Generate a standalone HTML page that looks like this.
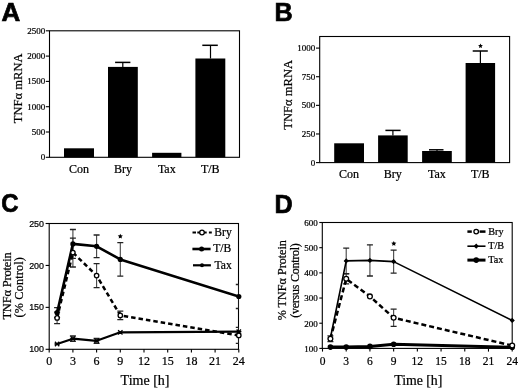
<!DOCTYPE html>
<html><head><meta charset="utf-8"><style>
html,body{margin:0;padding:0;background:#fff;}
body{width:520px;height:389px;overflow:hidden;}
svg{display:block;will-change:transform;}
</style></head><body>
<svg width="520" height="389" viewBox="0 0 520 389">
<rect width="520" height="389" fill="#fff"/>
<text x="1.60" y="20.90" font-family='"Liberation Sans", sans-serif' font-size="25.2" text-anchor="start" font-weight="bold" stroke="#000" stroke-width="0.7" transform="translate(1.60 20.90) scale(1.03 1) translate(-1.60 -20.90)">A</text>
<rect x="49.5" y="30.8" width="190.0" height="126.50000000000001" fill="none" stroke="#000" stroke-width="1.1"/>
<line x1="45.80" y1="157.30" x2="49.50" y2="157.30" stroke="#000" stroke-width="1.1" />
<text x="45.30" y="160.30" font-family='"Liberation Serif", serif' font-size="9" text-anchor="end" font-weight="normal"  stroke="#000" stroke-width="0.22">0</text>
<line x1="45.80" y1="132.00" x2="49.50" y2="132.00" stroke="#000" stroke-width="1.1" />
<text x="45.30" y="135.00" font-family='"Liberation Serif", serif' font-size="9" text-anchor="end" font-weight="normal"  stroke="#000" stroke-width="0.22">500</text>
<line x1="45.80" y1="106.70" x2="49.50" y2="106.70" stroke="#000" stroke-width="1.1" />
<text x="45.30" y="109.70" font-family='"Liberation Serif", serif' font-size="9" text-anchor="end" font-weight="normal"  stroke="#000" stroke-width="0.22">1000</text>
<line x1="45.80" y1="81.40" x2="49.50" y2="81.40" stroke="#000" stroke-width="1.1" />
<text x="45.30" y="84.40" font-family='"Liberation Serif", serif' font-size="9" text-anchor="end" font-weight="normal"  stroke="#000" stroke-width="0.22">1500</text>
<line x1="45.80" y1="56.10" x2="49.50" y2="56.10" stroke="#000" stroke-width="1.1" />
<text x="45.30" y="59.10" font-family='"Liberation Serif", serif' font-size="9" text-anchor="end" font-weight="normal"  stroke="#000" stroke-width="0.22">2000</text>
<line x1="45.80" y1="30.80" x2="49.50" y2="30.80" stroke="#000" stroke-width="1.1" />
<text x="45.30" y="33.80" font-family='"Liberation Serif", serif' font-size="9" text-anchor="end" font-weight="normal"  stroke="#000" stroke-width="0.22">2500</text>
<rect x="64.00" y="148.30" width="30.00" height="9.00" fill="#000"/>
<rect x="108.00" y="66.90" width="29.80" height="90.40" fill="#000"/>
<rect x="152.10" y="152.80" width="29.30" height="4.50" fill="#000"/>
<rect x="195.40" y="58.50" width="29.90" height="98.80" fill="#000"/>
<line x1="122.80" y1="62.40" x2="122.80" y2="66.90" stroke="#000" stroke-width="1.2" />
<line x1="115.10" y1="62.40" x2="130.40" y2="62.40" stroke="#000" stroke-width="1.5" />
<line x1="210.50" y1="45.30" x2="210.50" y2="58.50" stroke="#000" stroke-width="1.2" />
<line x1="202.30" y1="45.30" x2="217.80" y2="45.30" stroke="#000" stroke-width="1.5" />
<text x="79.00" y="172.80" font-family='"Liberation Serif", serif' font-size="12" text-anchor="middle" font-weight="normal"  stroke="#000" stroke-width="0.22">Con</text>
<text x="123.00" y="172.80" font-family='"Liberation Serif", serif' font-size="12" text-anchor="middle" font-weight="normal"  stroke="#000" stroke-width="0.22">Bry</text>
<text x="166.80" y="172.80" font-family='"Liberation Serif", serif' font-size="12" text-anchor="middle" font-weight="normal"  stroke="#000" stroke-width="0.22">Tax</text>
<text x="210.30" y="172.80" font-family='"Liberation Serif", serif' font-size="12" text-anchor="middle" font-weight="normal"  stroke="#000" stroke-width="0.22">T/B</text>
<text x="0.00" y="0.00" font-family='"Liberation Serif", serif' font-size="12.6" text-anchor="middle" font-weight="normal" transform="translate(22.2 88.3) rotate(-90)" stroke="#000" stroke-width="0.22">TNFα mRNA</text>
<text x="274.40" y="21.00" font-family='"Liberation Sans", sans-serif' font-size="25.2" text-anchor="start" font-weight="bold" stroke="#000" stroke-width="0.7">B</text>
<rect x="319.7" y="36.5" width="189.90000000000003" height="126.1" fill="none" stroke="#000" stroke-width="1.1"/>
<line x1="316.00" y1="162.60" x2="319.70" y2="162.60" stroke="#000" stroke-width="1.1" />
<text x="315.20" y="165.60" font-family='"Liberation Serif", serif' font-size="9" text-anchor="end" font-weight="normal"  stroke="#000" stroke-width="0.22">0</text>
<line x1="316.00" y1="133.97" x2="319.70" y2="133.97" stroke="#000" stroke-width="1.1" />
<text x="315.20" y="136.97" font-family='"Liberation Serif", serif' font-size="9" text-anchor="end" font-weight="normal"  stroke="#000" stroke-width="0.22">250</text>
<line x1="316.00" y1="105.35" x2="319.70" y2="105.35" stroke="#000" stroke-width="1.1" />
<text x="315.20" y="108.35" font-family='"Liberation Serif", serif' font-size="9" text-anchor="end" font-weight="normal"  stroke="#000" stroke-width="0.22">500</text>
<line x1="316.00" y1="76.72" x2="319.70" y2="76.72" stroke="#000" stroke-width="1.1" />
<text x="315.20" y="79.72" font-family='"Liberation Serif", serif' font-size="9" text-anchor="end" font-weight="normal"  stroke="#000" stroke-width="0.22">750</text>
<line x1="316.00" y1="48.10" x2="319.70" y2="48.10" stroke="#000" stroke-width="1.1" />
<text x="315.20" y="51.10" font-family='"Liberation Serif", serif' font-size="9" text-anchor="end" font-weight="normal"  stroke="#000" stroke-width="0.22">1000</text>
<rect x="334.20" y="143.30" width="29.80" height="19.30" fill="#000"/>
<rect x="378.10" y="135.40" width="29.60" height="27.20" fill="#000"/>
<rect x="422.10" y="151.00" width="29.70" height="11.60" fill="#000"/>
<rect x="465.60" y="63.00" width="29.50" height="99.60" fill="#000"/>
<line x1="392.90" y1="130.40" x2="392.90" y2="135.40" stroke="#000" stroke-width="1.2" />
<line x1="385.40" y1="130.40" x2="400.60" y2="130.40" stroke="#000" stroke-width="1.5" />
<line x1="437.00" y1="149.80" x2="437.00" y2="151.00" stroke="#000" stroke-width="1.2" />
<line x1="429.00" y1="149.80" x2="443.50" y2="149.80" stroke="#000" stroke-width="1.5" />
<line x1="480.40" y1="51.00" x2="480.40" y2="63.00" stroke="#000" stroke-width="1.2" />
<line x1="472.70" y1="51.00" x2="487.80" y2="51.00" stroke="#000" stroke-width="1.5" />
<polygon points="480.50,43.40 481.21,45.03 482.97,45.20 481.64,46.37 482.03,48.10 480.50,47.20 478.97,48.10 479.36,46.37 478.03,45.20 479.79,45.03" fill="#000"/>
<text x="349.00" y="178.20" font-family='"Liberation Serif", serif' font-size="12" text-anchor="middle" font-weight="normal"  stroke="#000" stroke-width="0.22">Con</text>
<text x="392.80" y="178.20" font-family='"Liberation Serif", serif' font-size="12" text-anchor="middle" font-weight="normal"  stroke="#000" stroke-width="0.22">Bry</text>
<text x="436.90" y="178.20" font-family='"Liberation Serif", serif' font-size="12" text-anchor="middle" font-weight="normal"  stroke="#000" stroke-width="0.22">Tax</text>
<text x="480.30" y="178.20" font-family='"Liberation Serif", serif' font-size="12" text-anchor="middle" font-weight="normal"  stroke="#000" stroke-width="0.22">T/B</text>
<text x="0.00" y="0.00" font-family='"Liberation Serif", serif' font-size="12.6" text-anchor="middle" font-weight="normal" transform="translate(292.3 94.8) rotate(-90)" stroke="#000" stroke-width="0.22">TNFα mRNA</text>
<text x="1.30" y="212.00" font-family='"Liberation Sans", sans-serif' font-size="25.2" text-anchor="start" font-weight="bold" stroke="#000" stroke-width="0.7" transform="translate(1.30 212.00) scale(0.95 1) translate(-1.30 -212.00)">C</text>
<defs><clipPath id="clipC"><rect x="49.20" y="203.50" width="189.30" height="145.80"/></clipPath>
<clipPath id="clipD"><rect x="322.3" y="200" width="189.90" height="150"/></clipPath></defs>
<rect x="49.2" y="223.5" width="189.3" height="125.80000000000001" fill="none" stroke="#000" stroke-width="1.1"/>
<line x1="45.60" y1="349.30" x2="49.20" y2="349.30" stroke="#000" stroke-width="1.1" />
<text x="44.00" y="352.40" font-family='"Liberation Sans", sans-serif' font-size="8.9" text-anchor="end" font-weight="normal"  stroke="#000" stroke-width="0.22">100</text>
<line x1="45.60" y1="307.37" x2="49.20" y2="307.37" stroke="#000" stroke-width="1.1" />
<text x="44.00" y="310.47" font-family='"Liberation Sans", sans-serif' font-size="8.9" text-anchor="end" font-weight="normal"  stroke="#000" stroke-width="0.22">150</text>
<line x1="45.60" y1="265.43" x2="49.20" y2="265.43" stroke="#000" stroke-width="1.1" />
<text x="44.00" y="268.53" font-family='"Liberation Sans", sans-serif' font-size="8.9" text-anchor="end" font-weight="normal"  stroke="#000" stroke-width="0.22">200</text>
<line x1="45.60" y1="223.50" x2="49.20" y2="223.50" stroke="#000" stroke-width="1.1" />
<text x="44.00" y="226.60" font-family='"Liberation Sans", sans-serif' font-size="8.9" text-anchor="end" font-weight="normal"  stroke="#000" stroke-width="0.22">250</text>
<line x1="49.20" y1="349.30" x2="49.20" y2="352.50" stroke="#000" stroke-width="1.1" />
<text x="49.20" y="365.40" font-family='"Liberation Serif", serif' font-size="12" text-anchor="middle" font-weight="normal"  stroke="#000" stroke-width="0.22">0</text>
<line x1="72.90" y1="349.30" x2="72.90" y2="352.50" stroke="#000" stroke-width="1.1" />
<text x="72.90" y="365.40" font-family='"Liberation Serif", serif' font-size="12" text-anchor="middle" font-weight="normal"  stroke="#000" stroke-width="0.22">3</text>
<line x1="96.60" y1="349.30" x2="96.60" y2="352.50" stroke="#000" stroke-width="1.1" />
<text x="96.60" y="365.40" font-family='"Liberation Serif", serif' font-size="12" text-anchor="middle" font-weight="normal"  stroke="#000" stroke-width="0.22">6</text>
<line x1="120.30" y1="349.30" x2="120.30" y2="352.50" stroke="#000" stroke-width="1.1" />
<text x="120.30" y="365.40" font-family='"Liberation Serif", serif' font-size="12" text-anchor="middle" font-weight="normal"  stroke="#000" stroke-width="0.22">9</text>
<line x1="144.00" y1="349.30" x2="144.00" y2="352.50" stroke="#000" stroke-width="1.1" />
<text x="144.00" y="365.40" font-family='"Liberation Serif", serif' font-size="12" text-anchor="middle" font-weight="normal"  stroke="#000" stroke-width="0.22">12</text>
<line x1="167.70" y1="349.30" x2="167.70" y2="352.50" stroke="#000" stroke-width="1.1" />
<text x="167.70" y="365.40" font-family='"Liberation Serif", serif' font-size="12" text-anchor="middle" font-weight="normal"  stroke="#000" stroke-width="0.22">15</text>
<line x1="191.40" y1="349.30" x2="191.40" y2="352.50" stroke="#000" stroke-width="1.1" />
<text x="191.40" y="365.40" font-family='"Liberation Serif", serif' font-size="12" text-anchor="middle" font-weight="normal"  stroke="#000" stroke-width="0.22">18</text>
<line x1="215.10" y1="349.30" x2="215.10" y2="352.50" stroke="#000" stroke-width="1.1" />
<text x="215.10" y="365.40" font-family='"Liberation Serif", serif' font-size="12" text-anchor="middle" font-weight="normal"  stroke="#000" stroke-width="0.22">21</text>
<line x1="238.80" y1="349.30" x2="238.80" y2="352.50" stroke="#000" stroke-width="1.1" />
<text x="238.80" y="365.40" font-family='"Liberation Serif", serif' font-size="12" text-anchor="middle" font-weight="normal"  stroke="#000" stroke-width="0.22">24</text>
<text x="120.60" y="384.60" font-family='"Liberation Serif", serif' font-size="14" text-anchor="start" font-weight="normal"  stroke="#000" stroke-width="0.22">Time [h]</text>
<text x="0.00" y="0.00" font-family='"Liberation Serif", serif' font-size="12.5" text-anchor="middle" font-weight="normal" textLength="67.4" lengthAdjust="spacing" transform="translate(10.8 285.9) rotate(-90)" stroke="#000" stroke-width="0.22">TNFα Protein</text>
<text x="0.00" y="0.00" font-family='"Liberation Serif", serif' font-size="12.2" text-anchor="middle" font-weight="normal" textLength="60.4" lengthAdjust="spacing" transform="translate(23.2 287.3) rotate(-90)" stroke="#000" stroke-width="0.22">(% Control)</text>
<g clip-path="url(#clipC)">
<line x1="57.10" y1="307.70" x2="57.10" y2="317.70" stroke="#444" stroke-width="1.1" />
<line x1="54.10" y1="307.70" x2="60.10" y2="307.70" stroke="#222" stroke-width="1.3" />
<line x1="54.10" y1="317.70" x2="60.10" y2="317.70" stroke="#222" stroke-width="1.3" />
<line x1="72.90" y1="229.50" x2="72.90" y2="258.30" stroke="#444" stroke-width="1.1" />
<line x1="69.90" y1="229.50" x2="75.90" y2="229.50" stroke="#222" stroke-width="1.3" />
<line x1="69.90" y1="258.30" x2="75.90" y2="258.30" stroke="#222" stroke-width="1.3" />
<line x1="96.60" y1="235.00" x2="96.60" y2="257.60" stroke="#444" stroke-width="1.1" />
<line x1="93.60" y1="235.00" x2="99.60" y2="235.00" stroke="#222" stroke-width="1.3" />
<line x1="93.60" y1="257.60" x2="99.60" y2="257.60" stroke="#222" stroke-width="1.3" />
<line x1="120.30" y1="242.70" x2="120.30" y2="276.10" stroke="#444" stroke-width="1.1" />
<line x1="117.30" y1="242.70" x2="123.30" y2="242.70" stroke="#222" stroke-width="1.3" />
<line x1="117.30" y1="276.10" x2="123.30" y2="276.10" stroke="#222" stroke-width="1.3" />
<line x1="238.80" y1="284.50" x2="238.80" y2="308.50" stroke="#444" stroke-width="1.1" />
<line x1="235.80" y1="284.50" x2="241.80" y2="284.50" stroke="#222" stroke-width="1.3" />
<line x1="235.80" y1="308.50" x2="241.80" y2="308.50" stroke="#222" stroke-width="1.3" />
<line x1="57.10" y1="312.20" x2="57.10" y2="323.60" stroke="#444" stroke-width="1.1" />
<line x1="54.10" y1="312.20" x2="60.10" y2="312.20" stroke="#222" stroke-width="1.3" />
<line x1="54.10" y1="323.60" x2="60.10" y2="323.60" stroke="#222" stroke-width="1.3" />
<line x1="72.90" y1="238.20" x2="72.90" y2="267.00" stroke="#444" stroke-width="1.1" />
<line x1="69.90" y1="238.20" x2="75.90" y2="238.20" stroke="#222" stroke-width="1.3" />
<line x1="69.90" y1="267.00" x2="75.90" y2="267.00" stroke="#222" stroke-width="1.3" />
<line x1="96.60" y1="263.60" x2="96.60" y2="287.60" stroke="#444" stroke-width="1.1" />
<line x1="93.60" y1="263.60" x2="99.60" y2="263.60" stroke="#222" stroke-width="1.3" />
<line x1="93.60" y1="287.60" x2="99.60" y2="287.60" stroke="#222" stroke-width="1.3" />
<line x1="120.30" y1="311.20" x2="120.30" y2="319.60" stroke="#444" stroke-width="1.1" />
<line x1="117.30" y1="311.20" x2="123.30" y2="311.20" stroke="#222" stroke-width="1.3" />
<line x1="117.30" y1="319.60" x2="123.30" y2="319.60" stroke="#222" stroke-width="1.3" />
<line x1="238.80" y1="327.40" x2="238.80" y2="343.40" stroke="#444" stroke-width="1.1" />
<line x1="235.80" y1="327.40" x2="241.80" y2="327.40" stroke="#222" stroke-width="1.3" />
<line x1="235.80" y1="343.40" x2="241.80" y2="343.40" stroke="#222" stroke-width="1.3" />
<line x1="72.90" y1="336.00" x2="72.90" y2="341.40" stroke="#444" stroke-width="1.1" />
<line x1="69.90" y1="336.00" x2="75.90" y2="336.00" stroke="#222" stroke-width="1.3" />
<line x1="69.90" y1="341.40" x2="75.90" y2="341.40" stroke="#222" stroke-width="1.3" />
<line x1="96.60" y1="338.30" x2="96.60" y2="343.30" stroke="#444" stroke-width="1.1" />
<line x1="93.60" y1="338.30" x2="99.60" y2="338.30" stroke="#222" stroke-width="1.3" />
<line x1="93.60" y1="343.30" x2="99.60" y2="343.30" stroke="#222" stroke-width="1.3" />
<polyline points="57.10,344.00 72.90,338.70 96.60,340.80 120.30,332.30 238.80,331.70" fill="none" stroke="#000" stroke-width="2.2" stroke-linejoin="round"/>
<polyline points="57.10,317.90 72.90,252.60 96.60,275.60 120.30,315.40 238.80,335.40" fill="none" stroke="#000" stroke-width="2.5" stroke-dasharray="4.5 3"/>
<polyline points="57.10,312.70 72.90,243.90 96.60,246.30 120.30,259.40 238.80,296.50" fill="none" stroke="#000" stroke-width="2.6" stroke-linejoin="round"/>
</g>
<path d="M54.90,341.80L59.30,346.20M59.30,341.80L54.90,346.20M54.50,344.00L59.70,344.00" stroke="#000" stroke-width="1.3"/>
<path d="M70.70,336.50L75.10,340.90M75.10,336.50L70.70,340.90M70.30,338.70L75.50,338.70" stroke="#000" stroke-width="1.3"/>
<path d="M94.40,338.60L98.80,343.00M98.80,338.60L94.40,343.00M94.00,340.80L99.20,340.80" stroke="#000" stroke-width="1.3"/>
<path d="M118.10,330.10L122.50,334.50M122.50,330.10L118.10,334.50M117.70,332.30L122.90,332.30" stroke="#000" stroke-width="1.3"/>
<path d="M236.60,329.50L241.00,333.90M241.00,329.50L236.60,333.90M236.20,331.70L241.40,331.70" stroke="#000" stroke-width="1.3"/>
<circle cx="57.10" cy="312.70" r="2.6" fill="#000"/>
<circle cx="72.90" cy="243.90" r="2.6" fill="#000"/>
<circle cx="96.60" cy="246.30" r="2.6" fill="#000"/>
<circle cx="120.30" cy="259.40" r="2.6" fill="#000"/>
<circle cx="238.80" cy="296.50" r="2.6" fill="#000"/>
<circle cx="57.10" cy="317.90" r="2.2" fill="#fff" stroke="#000" stroke-width="1.3"/>
<circle cx="72.90" cy="252.60" r="2.2" fill="#fff" stroke="#000" stroke-width="1.3"/>
<circle cx="96.60" cy="275.60" r="2.2" fill="#fff" stroke="#000" stroke-width="1.3"/>
<circle cx="120.30" cy="315.40" r="2.2" fill="#fff" stroke="#000" stroke-width="1.3"/>
<circle cx="238.80" cy="335.40" r="2.2" fill="#fff" stroke="#000" stroke-width="1.3"/>
<polygon points="120.30,233.70 121.06,235.35 122.87,235.57 121.54,236.80 121.89,238.58 120.30,237.70 118.71,238.58 119.06,236.80 117.73,235.57 119.54,235.35" fill="#000"/>
<line x1="192.50" y1="232.50" x2="196.00" y2="232.50" stroke="#000" stroke-width="2.0" />
<line x1="197.30" y1="232.50" x2="200.00" y2="232.50" stroke="#000" stroke-width="2.0" />
<line x1="204.00" y1="232.50" x2="206.70" y2="232.50" stroke="#000" stroke-width="2.0" />
<line x1="208.90" y1="232.50" x2="211.80" y2="232.50" stroke="#000" stroke-width="2.0" />
<circle cx="202.0" cy="232.5" r="2.3" fill="#fff" stroke="#000" stroke-width="1.3"/>
<text x="214.30" y="235.80" font-family='"Liberation Serif", serif' font-size="11.6" text-anchor="start" font-weight="normal"  stroke="#000" stroke-width="0.22">Bry</text>
<line x1="192.40" y1="249.00" x2="210.60" y2="249.00" stroke="#000" stroke-width="2.6" />
<circle cx="201.6" cy="249.0" r="2.5" fill="#000"/>
<text x="213.20" y="252.40" font-family='"Liberation Serif", serif' font-size="11.6" text-anchor="start" font-weight="normal"  stroke="#000" stroke-width="0.22">T/B</text>
<line x1="193.00" y1="265.30" x2="210.90" y2="265.30" stroke="#000" stroke-width="2.2" />
<circle cx="202" cy="265.3" r="2.0" fill="#000"/>
<text x="214.60" y="268.60" font-family='"Liberation Serif", serif' font-size="11.6" text-anchor="start" font-weight="normal"  stroke="#000" stroke-width="0.22">Tax</text>
<text x="274.40" y="212.80" font-family='"Liberation Sans", sans-serif' font-size="25.2" text-anchor="start" font-weight="bold" stroke="#000" stroke-width="0.7">D</text>
<rect x="322.3" y="222.5" width="189.90000000000003" height="125.89999999999998" fill="none" stroke="#000" stroke-width="1.1"/>
<line x1="319.30" y1="348.40" x2="322.30" y2="348.40" stroke="#000" stroke-width="1.1" />
<text x="317.80" y="351.80" font-family='"Liberation Serif", serif' font-size="9" text-anchor="end" font-weight="normal"  stroke="#000" stroke-width="0.22">100</text>
<line x1="319.30" y1="323.22" x2="322.30" y2="323.22" stroke="#000" stroke-width="1.1" />
<text x="317.80" y="326.62" font-family='"Liberation Serif", serif' font-size="9" text-anchor="end" font-weight="normal"  stroke="#000" stroke-width="0.22">200</text>
<line x1="319.30" y1="298.04" x2="322.30" y2="298.04" stroke="#000" stroke-width="1.1" />
<text x="317.80" y="301.44" font-family='"Liberation Serif", serif' font-size="9" text-anchor="end" font-weight="normal"  stroke="#000" stroke-width="0.22">300</text>
<line x1="319.30" y1="272.86" x2="322.30" y2="272.86" stroke="#000" stroke-width="1.1" />
<text x="317.80" y="276.26" font-family='"Liberation Serif", serif' font-size="9" text-anchor="end" font-weight="normal"  stroke="#000" stroke-width="0.22">400</text>
<line x1="319.30" y1="247.68" x2="322.30" y2="247.68" stroke="#000" stroke-width="1.1" />
<text x="317.80" y="251.08" font-family='"Liberation Serif", serif' font-size="9" text-anchor="end" font-weight="normal"  stroke="#000" stroke-width="0.22">500</text>
<line x1="319.30" y1="222.50" x2="322.30" y2="222.50" stroke="#000" stroke-width="1.1" />
<text x="317.80" y="225.90" font-family='"Liberation Serif", serif' font-size="9" text-anchor="end" font-weight="normal"  stroke="#000" stroke-width="0.22">600</text>
<line x1="322.50" y1="348.40" x2="322.50" y2="351.60" stroke="#000" stroke-width="1.1" />
<text x="322.50" y="364.80" font-family='"Liberation Serif", serif' font-size="11.5" text-anchor="middle" font-weight="normal"  stroke="#000" stroke-width="0.22">0</text>
<line x1="346.21" y1="348.40" x2="346.21" y2="351.60" stroke="#000" stroke-width="1.1" />
<text x="346.21" y="364.80" font-family='"Liberation Serif", serif' font-size="11.5" text-anchor="middle" font-weight="normal"  stroke="#000" stroke-width="0.22">3</text>
<line x1="369.92" y1="348.40" x2="369.92" y2="351.60" stroke="#000" stroke-width="1.1" />
<text x="369.92" y="364.80" font-family='"Liberation Serif", serif' font-size="11.5" text-anchor="middle" font-weight="normal"  stroke="#000" stroke-width="0.22">6</text>
<line x1="393.64" y1="348.40" x2="393.64" y2="351.60" stroke="#000" stroke-width="1.1" />
<text x="393.64" y="364.80" font-family='"Liberation Serif", serif' font-size="11.5" text-anchor="middle" font-weight="normal"  stroke="#000" stroke-width="0.22">9</text>
<line x1="417.35" y1="348.40" x2="417.35" y2="351.60" stroke="#000" stroke-width="1.1" />
<text x="417.35" y="364.80" font-family='"Liberation Serif", serif' font-size="11.5" text-anchor="middle" font-weight="normal"  stroke="#000" stroke-width="0.22">12</text>
<line x1="441.06" y1="348.40" x2="441.06" y2="351.60" stroke="#000" stroke-width="1.1" />
<text x="441.06" y="364.80" font-family='"Liberation Serif", serif' font-size="11.5" text-anchor="middle" font-weight="normal"  stroke="#000" stroke-width="0.22">15</text>
<line x1="464.77" y1="348.40" x2="464.77" y2="351.60" stroke="#000" stroke-width="1.1" />
<text x="464.77" y="364.80" font-family='"Liberation Serif", serif' font-size="11.5" text-anchor="middle" font-weight="normal"  stroke="#000" stroke-width="0.22">18</text>
<line x1="488.48" y1="348.40" x2="488.48" y2="351.60" stroke="#000" stroke-width="1.1" />
<text x="488.48" y="364.80" font-family='"Liberation Serif", serif' font-size="11.5" text-anchor="middle" font-weight="normal"  stroke="#000" stroke-width="0.22">21</text>
<line x1="512.20" y1="348.40" x2="512.20" y2="351.60" stroke="#000" stroke-width="1.1" />
<text x="512.20" y="364.80" font-family='"Liberation Serif", serif' font-size="11.5" text-anchor="middle" font-weight="normal"  stroke="#000" stroke-width="0.22">24</text>
<text x="394.20" y="384.80" font-family='"Liberation Serif", serif' font-size="13.8" text-anchor="start" font-weight="normal"  stroke="#000" stroke-width="0.22">Time [h]</text>
<text x="0.00" y="0.00" font-family='"Liberation Serif", serif' font-size="12.2" text-anchor="middle" font-weight="normal" textLength="80.2" lengthAdjust="spacing" transform="translate(286.3 280.2) rotate(-90)" stroke="#000" stroke-width="0.22">% TNFα Protein</text>
<text x="0.00" y="0.00" font-family='"Liberation Serif", serif' font-size="12" text-anchor="middle" font-weight="normal" textLength="74.5" lengthAdjust="spacing" transform="translate(299.4 280.45) rotate(-90)" stroke="#000" stroke-width="0.22">(versus Control)</text>
<g clip-path="url(#clipD)">
<line x1="346.21" y1="248.10" x2="346.21" y2="273.70" stroke="#444" stroke-width="1.1" />
<line x1="343.21" y1="248.10" x2="349.21" y2="248.10" stroke="#222" stroke-width="1.3" />
<line x1="343.21" y1="273.70" x2="349.21" y2="273.70" stroke="#222" stroke-width="1.3" />
<line x1="369.92" y1="244.80" x2="369.92" y2="276.00" stroke="#444" stroke-width="1.1" />
<line x1="366.92" y1="244.80" x2="372.92" y2="244.80" stroke="#222" stroke-width="1.3" />
<line x1="366.92" y1="276.00" x2="372.92" y2="276.00" stroke="#222" stroke-width="1.3" />
<line x1="393.64" y1="250.10" x2="393.64" y2="273.10" stroke="#444" stroke-width="1.1" />
<line x1="390.64" y1="250.10" x2="396.64" y2="250.10" stroke="#222" stroke-width="1.3" />
<line x1="390.64" y1="273.10" x2="396.64" y2="273.10" stroke="#222" stroke-width="1.3" />
<line x1="330.40" y1="335.90" x2="330.40" y2="341.70" stroke="#444" stroke-width="1.1" />
<line x1="327.40" y1="335.90" x2="333.40" y2="335.90" stroke="#222" stroke-width="1.3" />
<line x1="327.40" y1="341.70" x2="333.40" y2="341.70" stroke="#222" stroke-width="1.3" />
<line x1="346.21" y1="273.80" x2="346.21" y2="283.80" stroke="#444" stroke-width="1.1" />
<line x1="343.21" y1="273.80" x2="349.21" y2="273.80" stroke="#222" stroke-width="1.3" />
<line x1="343.21" y1="283.80" x2="349.21" y2="283.80" stroke="#222" stroke-width="1.3" />
<line x1="393.64" y1="309.20" x2="393.64" y2="326.40" stroke="#444" stroke-width="1.1" />
<line x1="390.64" y1="309.20" x2="396.64" y2="309.20" stroke="#222" stroke-width="1.3" />
<line x1="390.64" y1="326.40" x2="396.64" y2="326.40" stroke="#222" stroke-width="1.3" />
<polyline points="330.40,347.10 346.21,347.10 369.92,346.40 393.64,344.30 512.20,347.20" fill="none" stroke="#000" stroke-width="3" stroke-linejoin="round"/>
<polyline points="330.40,338.80 346.21,278.80 369.92,296.40 393.64,317.80 512.20,345.60" fill="none" stroke="#000" stroke-width="2.5" stroke-dasharray="5 3"/>
<polyline points="330.40,338.00 346.21,260.90 369.92,260.40 393.64,261.60 512.20,320.40" fill="none" stroke="#000" stroke-width="1.6" stroke-linejoin="round"/>
</g>
<circle cx="330.40" cy="347.10" r="2.8" fill="#000"/>
<circle cx="346.21" cy="347.10" r="2.8" fill="#000"/>
<circle cx="369.92" cy="346.40" r="2.8" fill="#000"/>
<circle cx="393.64" cy="344.30" r="2.8" fill="#000"/>
<circle cx="512.20" cy="347.20" r="2.8" fill="#000"/>
<path d="M330.40,335.40L333.00,338.00L330.40,340.60L327.80,338.00Z" fill="#000"/>
<path d="M346.21,258.30L348.81,260.90L346.21,263.50L343.61,260.90Z" fill="#000"/>
<path d="M369.92,257.80L372.52,260.40L369.92,263.00L367.32,260.40Z" fill="#000"/>
<path d="M393.64,259.00L396.24,261.60L393.64,264.20L391.04,261.60Z" fill="#000"/>
<path d="M512.20,317.80L514.80,320.40L512.20,323.00L509.60,320.40Z" fill="#000"/>
<circle cx="330.40" cy="338.80" r="2.4" fill="#fff" stroke="#000" stroke-width="1.3"/>
<circle cx="346.21" cy="278.80" r="2.4" fill="#fff" stroke="#000" stroke-width="1.3"/>
<circle cx="369.92" cy="296.40" r="2.4" fill="#fff" stroke="#000" stroke-width="1.3"/>
<circle cx="393.64" cy="317.80" r="2.4" fill="#fff" stroke="#000" stroke-width="1.3"/>
<circle cx="512.20" cy="345.60" r="2.4" fill="#fff" stroke="#000" stroke-width="1.3"/>
<polygon points="393.80,240.90 394.56,242.55 396.37,242.77 395.04,244.00 395.39,245.78 393.80,244.90 392.21,245.78 392.56,244.00 391.23,242.77 393.04,242.55" fill="#000"/>
<line x1="467.40" y1="231.60" x2="471.80" y2="231.60" stroke="#000" stroke-width="2.5" />
<line x1="479.60" y1="231.60" x2="485.50" y2="231.60" stroke="#000" stroke-width="2.5" />
<circle cx="476.2" cy="231.6" r="2.3" fill="#fff" stroke="#000" stroke-width="1.3"/>
<text x="488.30" y="234.80" font-family='"Liberation Serif", serif' font-size="10.2" text-anchor="start" font-weight="normal"  stroke="#000" stroke-width="0.22">Bry</text>
<line x1="467.40" y1="246.20" x2="485.50" y2="246.20" stroke="#000" stroke-width="1.6" />
<path d="M476.2,243.6L478.8,246.2L476.2,248.8L473.6,246.2Z" fill="#000"/>
<text x="488.30" y="249.40" font-family='"Liberation Serif", serif' font-size="10.2" text-anchor="start" font-weight="normal"  stroke="#000" stroke-width="0.22">T/B</text>
<line x1="467.40" y1="260.10" x2="485.50" y2="260.10" stroke="#000" stroke-width="3" />
<circle cx="476.2" cy="260.1" r="2.8" fill="#000"/>
<text x="488.30" y="263.30" font-family='"Liberation Serif", serif' font-size="10.2" text-anchor="start" font-weight="normal"  stroke="#000" stroke-width="0.22">Tax</text>
</svg>
</body></html>
